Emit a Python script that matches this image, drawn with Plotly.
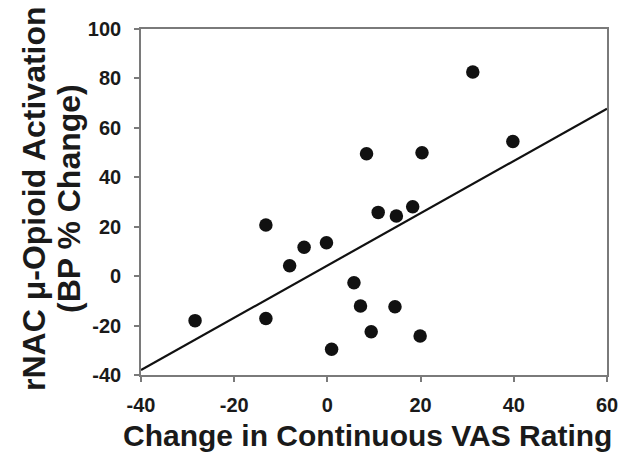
import plotly.graph_objects as go

# Data
vas_change = [8.4, 31.2, 20.3, 39.8, -28.4, -13.2, -13.2, -8.1, -5.0, -0.2,
              0.9, 5.7, 7.1, 9.4, 10.9, 14.8, 14.5, 18.3, 19.9]
bp_change = [49.5, 82.6, 49.9, 54.5, -18.0, 20.7, -17.1, 4.2, 11.7, 13.5,
             -29.6, -2.7, -12.1, -22.5, 25.8, 24.3, -12.4, 28.1, -24.2]
fit_slope = 1.058
fit_intercept = 4.3
x_range = [-40, 60]
y_range = [-40, 100]
x_ticks = [-40, -20, 0, 20, 40, 60]
x_tick_labels = ["-40", "-20", "0", "20", "40", "60"]
y_ticks = [-40, -20, 0, 20, 40, 60, 80, 100]
y_tick_labels = ["-40", "-20", "0", "20", "40", "60", "80", "100"]

FONT = "Arial, Liberation Sans, sans-serif"

fig = go.Figure()
fig.add_trace(go.Scatter(
    x=x_range, y=[fit_intercept + fit_slope * v for v in x_range],
    mode="lines", line=dict(color="#111111", width=2.2),
    hoverinfo="skip", showlegend=False))
fig.add_trace(go.Scatter(
    x=vas_change, y=bp_change, mode="markers",
    marker=dict(size=13.5, color="#111111"), showlegend=False))

axis_common = dict(
    showgrid=False, zeroline=False, showline=True, mirror=True,
    linecolor="#7a7a7a", linewidth=1.6, ticks="outside", ticklen=5,
    tickcolor="#7a7a7a", tickwidth=1.5,
    tickfont=dict(family=FONT, size=20, color="#1a1a1a", weight="bold"),
)
fig.update_xaxes(range=x_range, tickvals=x_ticks, ticktext=x_tick_labels,
                 ticklabelstandoff=6, **axis_common)
fig.update_yaxes(range=y_range, tickvals=y_ticks, ticktext=y_tick_labels,
                 ticklabelstandoff=9, **axis_common)

fig.add_annotation(
    text="Change in Continuous VAS Rating", xref="paper", yref="paper",
    x=0.5, y=0, yanchor="middle", yshift=-60, xshift=-7, showarrow=False,
    font=dict(family=FONT, size=30, color="#1a1a1a", weight="bold"))
fig.add_annotation(
    text="rNAC μ-Opioid Activation", xref="paper", yref="paper",
    x=0, y=0.5, xanchor="center", yanchor="middle", xshift=-107, yshift=3,
    textangle=-90, showarrow=False,
    font=dict(family=FONT, size=32, color="#1a1a1a", weight="bold"))
fig.add_annotation(
    text="(BP % Change)", xref="paper", yref="paper",
    x=0, y=0.5, xanchor="center", yanchor="middle", xshift=-72, yshift=3,
    textangle=-90, showarrow=False,
    font=dict(family=FONT, size=32, color="#1a1a1a", weight="bold"))

fig.update_layout(
    width=631, height=465,
    margin=dict(l=141, r=24, t=29, b=90),
    paper_bgcolor="white", plot_bgcolor="white",
)
fig.write_html("out.html", config={"displayModeBar": False},
               post_script="document.body.style.margin='0';")
